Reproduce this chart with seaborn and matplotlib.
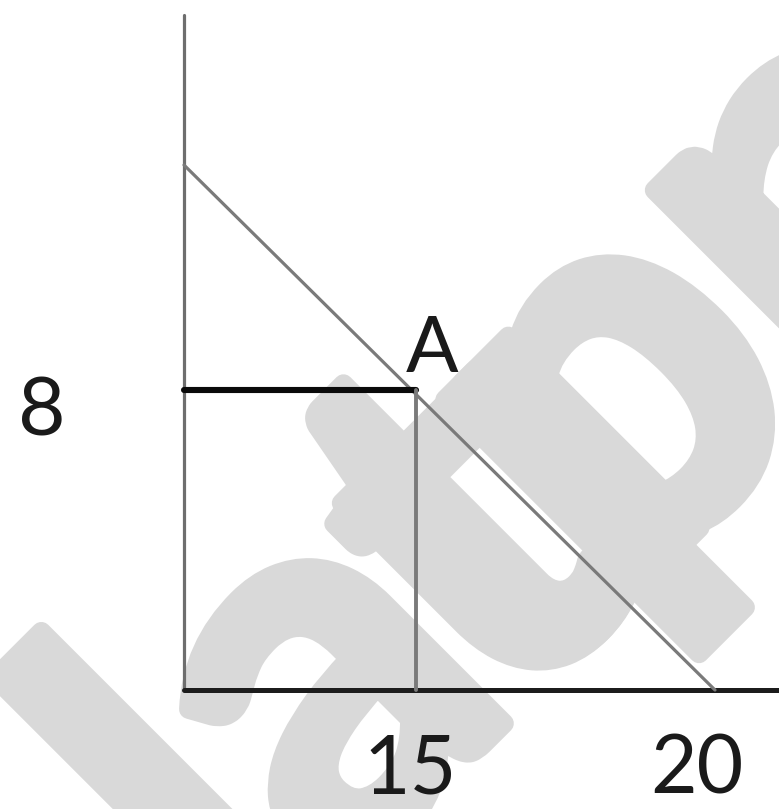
import numpy as np
import pandas as pd
import matplotlib
matplotlib.use("Agg")
import matplotlib.pyplot as plt
import matplotlib.patheffects as pe
import seaborn as sns

# values
qty_ticks = [15, 20]
price_ticks = [8]
point_a = (15, 8)
budget_x = [0, 20]
budget_y = [14, 0]
y_axis_top = 18

sns.set_style("white")
plt.rcParams["font.family"] = ["Lato", "DejaVu Sans"]

W, H = 779, 809
fig = plt.figure(figsize=(W / 100, H / 100), dpi=100)
ax = fig.add_axes([0, 0, 1, 1])

# the drawing is not to scale on x: piecewise scale through the labelled points
knots = np.array([-50.0, 0.0, 15.0, 20.0, 40.0])
px = np.array([184 - 50 * 15.53, 184.0, 416.0, 715.0, 715 + 20 * 60.0])


def fwd(x):
    return np.interp(x, knots, px)


def inv(p):
    return np.interp(p, px, knots)


ax.set_xscale("function", functions=(fwd, inv))
ax.set_xlim(float(inv(0)), float(inv(W)))
ax.set_ylim((690 - H) / 37.5, 690 / 37.5)
ax.set_axis_off()

# watermark: heavy grey letters on a 45 degree baseline, under the drawing
wm_letters = ["l", "a", "t", "u", "p", "n"]
wm_along = [-450, -260, -45, 5, 150, 445]   # px along the baseline
wm_base = -868                               # px, baseline offset
wm = dict(rotation=45, rotation_mode="anchor", ha="center", va="baseline",
          fontsize=380, fontweight="bold", color="#d9d9d9", zorder=0.5,
          family=["Liberation Sans Narrow", "Lato"],
          transform=fig.transFigure,
          path_effects=[pe.withStroke(linewidth=14, foreground="#d9d9d9")])
for ch, a in zip(wm_letters, wm_along):
    xi = (a - wm_base) / np.sqrt(2)
    yi = (-wm_base - a) / np.sqrt(2)
    ax.text(xi / W, 1 - yi / H, ch, **wm)

x_end = float(inv(W))
segments = pd.DataFrame({
    "seg": ["yaxis", "yaxis", "xaxis", "xaxis", "budget", "budget",
            "h8", "h8", "v15", "v15"],
    "x": [0, 0, 0, x_end, budget_x[0], budget_x[1], 0, point_a[0],
          point_a[0], point_a[0]],
    "y": [0, y_axis_top, 0, 0, budget_y[0], budget_y[1], point_a[1],
          point_a[1], point_a[1], 0],
})
styles = {
    "yaxis": ("#6e6e6e", 2.3),
    "xaxis": ("#1c1c1c", 3.6),
    "budget": ("#7a7a7a", 2.3),
    "h8": ("#0a0a0a", 4.4),
    "v15": ("#7a7a7a", 2.8),
}
for seg, d in segments.groupby("seg", sort=False):
    c, lw = styles[seg]
    sns.lineplot(data=d, x="x", y="y", ax=ax, color=c, linewidth=lw,
                 estimator=None, sort=False, solid_capstyle="round")

lab = dict(textcoords="offset pixels", ha="center", va="center",
           color="#1a1a1a", family=["Lato", "DejaVu Sans"], zorder=5)
ax.annotate(str(price_ticks[0]), (0, price_ticks[0]), xytext=(-142, -23),
            fontsize=59, **lab)
for q in qty_ticks:
    ax.annotate(str(q), (q, 0), xytext=(-6 if q == 15 else -18, -80),
                fontsize=58, **lab)
ax.annotate("A", point_a, xytext=(16, 40), fontsize=56, **lab)

fig.savefig("out.png", dpi=100)
